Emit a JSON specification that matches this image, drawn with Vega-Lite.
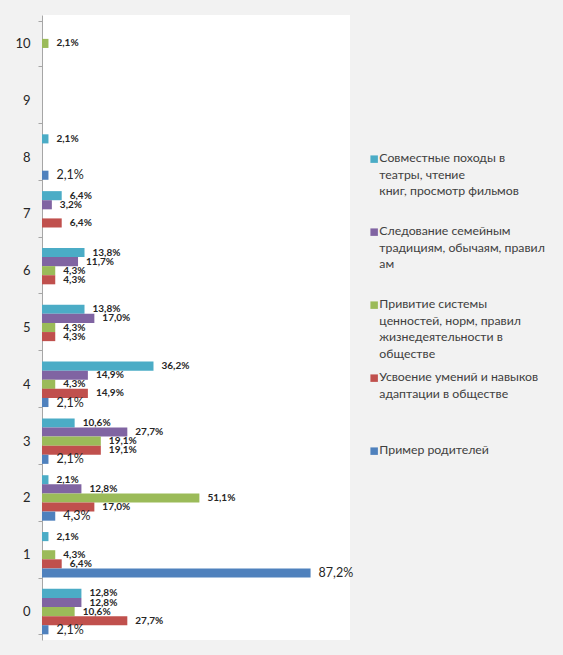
{
  "$schema": "https://vega.github.io/schema/vega-lite/v6.json",
  "width": 308,
  "height": 625,
  "autosize": {"type": "none"},
  "padding": {"left": 42, "top": 15, "right": 213, "bottom": 15},
  "background": "#f2f2f2",
  "config": {"view": {"fill": "white", "stroke": null}, "font": "Lato"},
  "data": {"values": [
    {"c": 10, "s": "Привитие системы ценностей, норм, правил жизнедеятельности в обществе", "v": 2.1},
    {"c": 8, "s": "Совместные походы в театры, чтение книг, просмотр фильмов", "v": 2.1},
    {"c": 8, "s": "Пример родителей", "v": 2.1},
    {"c": 7, "s": "Совместные походы в театры, чтение книг, просмотр фильмов", "v": 6.4},
    {"c": 7, "s": "Следование семейным традициям, обычаям, правилам", "v": 3.2},
    {"c": 7, "s": "Усвоение умений и навыков адаптации в обществе", "v": 6.4},
    {"c": 6, "s": "Совместные походы в театры, чтение книг, просмотр фильмов", "v": 13.8},
    {"c": 6, "s": "Следование семейным традициям, обычаям, правилам", "v": 11.7},
    {"c": 6, "s": "Привитие системы ценностей, норм, правил жизнедеятельности в обществе", "v": 4.3},
    {"c": 6, "s": "Усвоение умений и навыков адаптации в обществе", "v": 4.3},
    {"c": 5, "s": "Совместные походы в театры, чтение книг, просмотр фильмов", "v": 13.8},
    {"c": 5, "s": "Следование семейным традициям, обычаям, правилам", "v": 17.0},
    {"c": 5, "s": "Привитие системы ценностей, норм, правил жизнедеятельности в обществе", "v": 4.3},
    {"c": 5, "s": "Усвоение умений и навыков адаптации в обществе", "v": 4.3},
    {"c": 4, "s": "Совместные походы в театры, чтение книг, просмотр фильмов", "v": 36.2},
    {"c": 4, "s": "Следование семейным традициям, обычаям, правилам", "v": 14.9},
    {"c": 4, "s": "Привитие системы ценностей, норм, правил жизнедеятельности в обществе", "v": 4.3},
    {"c": 4, "s": "Усвоение умений и навыков адаптации в обществе", "v": 14.9},
    {"c": 4, "s": "Пример родителей", "v": 2.1},
    {"c": 3, "s": "Совместные походы в театры, чтение книг, просмотр фильмов", "v": 10.6},
    {"c": 3, "s": "Следование семейным традициям, обычаям, правилам", "v": 27.7},
    {"c": 3, "s": "Привитие системы ценностей, норм, правил жизнедеятельности в обществе", "v": 19.1},
    {"c": 3, "s": "Усвоение умений и навыков адаптации в обществе", "v": 19.1},
    {"c": 3, "s": "Пример родителей", "v": 2.1},
    {"c": 2, "s": "Совместные походы в театры, чтение книг, просмотр фильмов", "v": 2.1},
    {"c": 2, "s": "Следование семейным традициям, обычаям, правилам", "v": 12.8},
    {"c": 2, "s": "Привитие системы ценностей, норм, правил жизнедеятельности в обществе", "v": 51.1},
    {"c": 2, "s": "Усвоение умений и навыков адаптации в обществе", "v": 17.0},
    {"c": 2, "s": "Пример родителей", "v": 4.3},
    {"c": 1, "s": "Совместные походы в театры, чтение книг, просмотр фильмов", "v": 2.1},
    {"c": 1, "s": "Привитие системы ценностей, норм, правил жизнедеятельности в обществе", "v": 4.3},
    {"c": 1, "s": "Усвоение умений и навыков адаптации в обществе", "v": 6.4},
    {"c": 1, "s": "Пример родителей", "v": 87.2},
    {"c": 0, "s": "Совместные походы в театры, чтение книг, просмотр фильмов", "v": 12.8},
    {"c": 0, "s": "Следование семейным традициям, обычаям, правилам", "v": 12.8},
    {"c": 0, "s": "Привитие системы ценностей, норм, правил жизнедеятельности в обществе", "v": 10.6},
    {"c": 0, "s": "Усвоение умений и навыков адаптации в обществе", "v": 27.7},
    {"c": 0, "s": "Пример родителей", "v": 2.1}
  ]},
  "transform": [
    {"calculate": "replace(format(datum.v, '.1f'), '.', ',') + '%'", "as": "label"}
  ],
  "encoding": {
    "y": {
      "field": "c", "type": "ordinal", "title": null,
      "scale": {"domain": [10, 9, 8, 7, 6, 5, 4, 3, 2, 1, 0], "paddingInner": 0.2, "paddingOuter": 0.1},
      "axis": {"tickBand": "extent", "domainColor": "#a6a6a6", "tickColor": "#a6a6a6", "tickSize": 4, "labelFontSize": 13, "labelColor": "#262626", "labelPadding": 8, "labelAngle": 0}
    },
    "yOffset": {
      "field": "s", "type": "nominal",
      "scale": {"domain": [
        "Совместные походы в театры, чтение книг, просмотр фильмов",
        "Следование семейным традициям, обычаям, правилам",
        "Привитие системы ценностей, норм, правил жизнедеятельности в обществе",
        "Усвоение умений и навыков адаптации в обществе",
        "Пример родителей"
      ], "paddingInner": 0, "paddingOuter": 0}
    },
    "x": {"field": "v", "type": "quantitative", "scale": {"domain": [0, 100]}, "axis": null}
  },
  "layer": [
    {
      "mark": {"type": "bar"},
      "encoding": {
        "color": {
          "field": "s", "type": "nominal",
          "scale": {
            "domain": [
              "Совместные походы в театры, чтение книг, просмотр фильмов",
              "Следование семейным традициям, обычаям, правилам",
              "Привитие системы ценностей, норм, правил жизнедеятельности в обществе",
              "Усвоение умений и навыков адаптации в обществе",
              "Пример родителей"
            ],
            "range": ["#4bacc6", "#8064a2", "#9bbb59", "#c0504d", "#4f81bd"]
          },
          "legend": {
            "orient": "none", "legendX": 326, "legendY": 138, "title": null,
            "padding": 0, "symbolType": "square", "symbolSize": 56, "symbolStrokeWidth": 0,
            "labelFontSize": 12.3, "labelColor": "#404040", "labelLimit": 300,
            "rowPadding": 11, "labelOffset": -1, "labelBaseline": "top",
            "labelExpr": "datum.label == 'Совместные походы в театры, чтение книг, просмотр фильмов' ? ['Совместные походы в', 'театры, чтение', 'книг, просмотр фильмов', ' '] : datum.label == 'Следование семейным традициям, обычаям, правилам' ? ['Следование семейным', 'традициям, обычаям, правил', 'ам', ' '] : datum.label == 'Привитие системы ценностей, норм, правил жизнедеятельности в обществе' ? ['Привитие системы', 'ценностей, норм, правил', 'жизнедеятельности в', 'обществе'] : datum.label == 'Усвоение умений и навыков адаптации в обществе' ? ['Усвоение умений и навыков', 'адаптации в обществе', ' ', ' '] : [datum.label, ' ', ' ', ' ']",
            "encode": {"labels": {"update": {"lineHeight": {"value": 16.5}, "dy": {"value": -7}}}}
          }
        }
      }
    },
    {
      "transform": [{"filter": "datum.s != 'Пример родителей'"}],
      "mark": {"type": "text", "align": "left", "baseline": "middle", "dx": 8, "fontSize": 10, "fontWeight": "bold", "color": "#262626"},
      "encoding": {"text": {"field": "label"}}
    },
    {
      "transform": [{"filter": "datum.s == 'Пример родителей'"}],
      "mark": {"type": "text", "align": "left", "baseline": "middle", "dx": 8, "fontSize": 12.5, "color": "#262626"},
      "encoding": {"text": {"field": "label"}}
    }
  ]
}
